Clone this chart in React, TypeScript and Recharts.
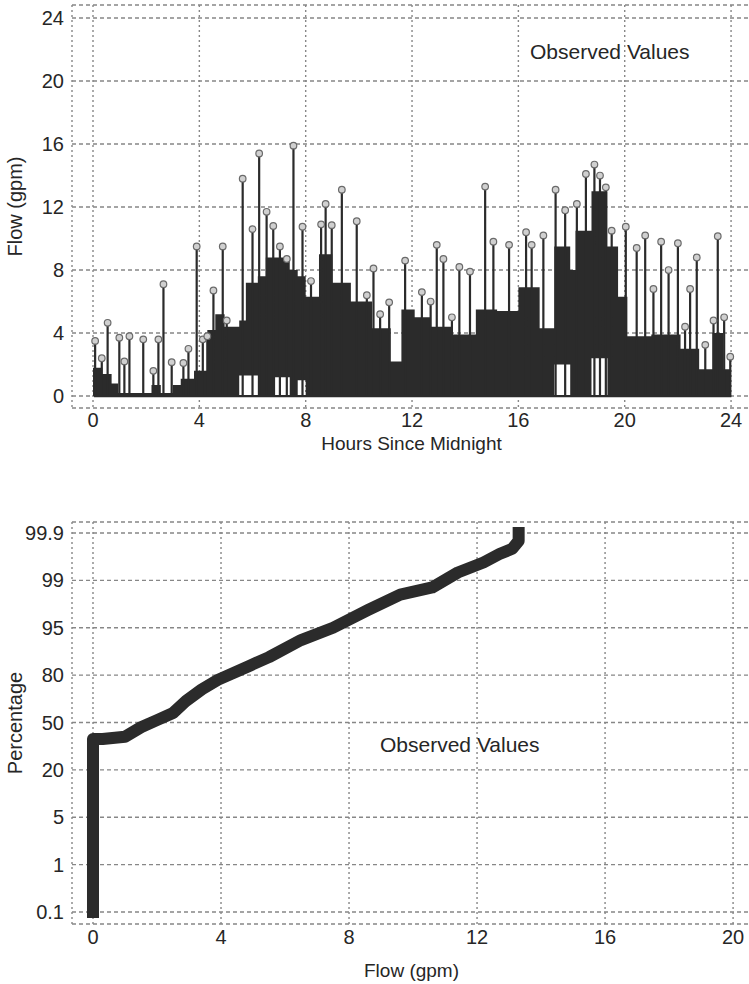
import React from 'react';
import { ComposedChart, Line, Area, Scatter, XAxis, YAxis, CartesianGrid } from 'recharts';

// ---------- top panel: flow vs time of day ----------
const hourTicks = [0, 4, 8, 12, 16, 20, 24];
const hourMinorTicks = [0, 1, 2, 3, 4, 5, 6, 7, 8, 9, 10, 11, 12, 13, 14, 15, 16, 17, 18, 19, 20, 21, 22, 23, 24];
const flowTicks = [0, 4, 8, 12, 16, 20, 24];
const flowMinorTicks = [0, 1, 2, 3, 4, 5, 6, 7, 8, 9, 10, 11, 12, 13, 14, 15, 16, 17, 18, 19, 20, 21, 22, 23, 24];

// individual flow events (hour, gpm)
const peakHours = [
  0.08, 0.33, 0.55, 0.99, 1.18, 1.37, 1.89, 2.27, 2.46, 2.65,
  2.96, 3.4, 3.59, 3.9, 4.13, 4.3, 4.53, 4.88, 5.03, 5.63,
  6.0, 6.25, 6.53, 6.78, 7.03, 7.29, 7.54, 7.88, 8.2, 8.58,
  8.75, 8.98, 9.36, 9.92, 10.3, 10.55, 10.8, 11.14, 11.74, 12.37,
  12.7, 12.93, 13.18, 13.5, 13.78, 14.18, 14.75, 15.06, 15.65, 16.29,
  16.5, 16.94, 17.4, 17.76, 18.2, 18.54, 18.86, 19.07, 19.29, 19.51,
  20.04, 20.45, 20.77, 21.08, 21.37, 21.65, 22.0, 22.27, 22.46, 22.71,
  23.03, 23.34, 23.5, 23.74, 23.97,
];
const peakFlows = [
  3.5, 2.4, 4.65, 3.7, 2.2, 3.8, 3.6, 1.6, 3.6, 7.1,
  2.15, 2.1, 3.0, 9.5, 3.6, 3.8, 6.7, 9.5, 4.8, 13.8,
  10.6, 15.4, 11.7, 10.8, 9.5, 8.7, 15.9, 10.75, 7.3, 10.9,
  12.2, 10.85, 13.1, 11.1, 6.4, 8.1, 5.2, 5.95, 8.6, 6.6,
  6.0, 9.6, 8.7, 5.0, 8.2, 7.9, 13.3, 9.8, 9.6, 10.4,
  9.6, 10.2, 13.1, 11.8, 12.2, 14.1, 14.7, 14.0, 13.25, 10.5,
  10.75, 9.4, 10.2, 6.8, 9.8, 8.0, 9.7, 4.4, 6.8, 8.8,
  3.25, 4.8, 10.15, 5.0, 2.5,
];

// busy stretches where the trace fills in solid (start hour, low, high)
const massHours = [
  0, 0.35, 0.7, 0.95, 2.2, 2.55, 3.0, 3.3, 3.8, 4.3,
  4.6, 4.95, 5.5, 5.75, 6.2, 6.5, 6.85, 7.4, 7.7, 8.0,
  8.5, 9.0, 9.7, 10.5, 11.2, 11.6, 12.1, 12.7, 13.5, 14.4,
  15.2, 16.0, 16.8, 17.35, 17.95, 18.15, 18.75, 19.35, 19.75, 20.1,
  21.0, 22.1, 22.8, 23.3, 23.7, 24.0,
];
const massLow = [
  0, 0, 0, 0, 0, 0, 0, 0, 0, 0,
  0, 0, 1.3, 1.3, 0, 0, 1.2, 0, 1.0, 0,
  0, 0, 0, 0, 0, 0, 0, 0, 0, 0,
  0, 0, 0, 2.0, 0, 0, 2.4, 0, 0, 0,
  0, 0, 0, 0, 0, 0,
];
const massHigh = [
  1.8, 1.4, 0.8, 0.2, 0.7, 0.2, 0.7, 1.1, 1.6, 4.2,
  5.2, 4.4, 4.8, 7.2, 7.6, 8.8, 8.8, 8.0, 7.6, 6.3,
  9.0, 7.2, 6.0, 4.3, 2.2, 5.5, 5.0, 4.4, 3.9, 5.5,
  5.4, 6.9, 4.3, 9.5, 8.0, 10.5, 13.0, 9.5, 6.3, 3.8,
  3.9, 3.0, 1.7, 4.0, 1.7, 1.7,
];

// ---------- bottom panel: probability plot ----------
const pctLabels = ['0.1', '1', '5', '20', '50', '80', '95', '99', '99.9'];
const qTicks = [0, 4, 8, 12, 16, 20];
const qMinorTicks = [0, 1, 2, 3, 4, 5, 6, 7, 8, 9, 10, 11, 12, 13, 14, 15, 16, 17, 18, 19, 20];

const probFlows = [0, 0, 0.3, 1.0, 1.5, 2.0, 2.5, 2.9, 3.4, 3.9, 4.9, 5.5, 6.5, 7.5, 8.6, 9.6, 10.6, 11.4, 12.2, 12.7, 13.1, 13.3, 13.3];
const probPcts = [0.1, 39.5, 39.5, 41, 47, 51.5, 56, 63.5, 71, 77, 83, 85.7, 91.1, 95, 96.5, 97.8, 98.4, 99.15, 99.34, 99.5, 99.6, 99.75, 99.9];

const ink = '#262626';
const trace = '#2b2b2b';
const edge = { stroke: '#777', strokeWidth: 2.2 };
const tickStroke = { stroke: '#6c6c6c', strokeWidth: 1.6 };
const gridColor = '#878787';

// the percentage axis is spaced evenly between its labels
const pctValues = pctLabels.map(Number);
const pctPositions = pctLabels.map((_, i) => i);
function toPos(p: number) {
  for (let i = 0; i < pctValues.length - 1; i++) {
    if (p <= pctValues[i + 1]) return i + (p - pctValues[i]) / (pctValues[i + 1] - pctValues[i]);
  }
  return pctValues.length - 1;
}

// inward tick marks + frame, done with mirrored zero-size axes
function innerTicks(id: string, side: 'top' | 'bottom' | 'left' | 'right', domain: number[], ticks: number[], size: number, withEdge: boolean) {
  const shared = {
    type: 'number' as const,
    domain,
    ticks,
    allowDataOverflow: true,
    mirror: true,
    tick: false,
    interval: 0 as const,
    tickSize: size,
    tickLine: tickStroke,
    axisLine: withEdge ? edge : false,
  };
  if (side === 'top' || side === 'bottom') {
    return <XAxis key={id} xAxisId={id} orientation={side} height={0} {...shared} />;
  }
  return <YAxis key={id} yAxisId={id} orientation={side} width={0} {...shared} />;
}

const peakMarker = (p: any) => (
  <circle cx={p.cx} cy={p.cy} r={3.3} fill="#d0d0d0" stroke="#6a6a6a" strokeWidth={1.2} />
);

function FlowSeries() {
  const stems = peakHours.flatMap((h, i) => [{ h, f: 0 }, { h, f: peakFlows[i] }, { h, f: 0 }]);
  const peaks = peakHours.map((h, i) => ({ h, f: peakFlows[i] }));
  const mass = massHours.map((h, i) => ({ h, band: [massLow[i], massHigh[i]] }));
  const xd = [-0.79, 24.75];
  const yd = [-0.76, 24.83];
  return (
    <ComposedChart width={751} height={460} margin={{ top: 5, right: 0, bottom: 0, left: 0 }}>
      <CartesianGrid vertical={false} stroke={gridColor} strokeDasharray="4 3" strokeWidth={1.4} />
      <CartesianGrid horizontal={false} stroke={gridColor} strokeDasharray="2 3" strokeWidth={1.4} />
      <XAxis
        dataKey="h"
        type="number"
        domain={xd}
        ticks={hourTicks}
        allowDataOverflow
        interval={0}
        axisLine={false}
        tickLine={false}
        tickSize={0}
        tickMargin={5}
        height={52}
        tick={{ fill: ink, fontSize: 20 }}
        label={{ value: 'Hours Since Midnight', position: 'insideBottom', offset: 10, fill: ink, fontSize: 19 }}
      />
      <YAxis
        type="number"
        domain={yd}
        ticks={flowTicks}
        allowDataOverflow
        interval={0}
        axisLine={false}
        tickLine={false}
        tickSize={0}
        tickMargin={8}
        width={72}
        tick={{ fill: ink, fontSize: 20 }}
        label={{ value: 'Flow (gpm)', angle: -90, position: 'insideLeft', offset: 15, fill: ink, fontSize: 20, style: { textAnchor: 'middle' } }}
      />
      {innerTicks('tb1', 'bottom', xd, hourMinorTicks, 4, true)}
      {innerTicks('tb2', 'bottom', xd, hourTicks, 10, false)}
      {innerTicks('tt1', 'top', xd, hourMinorTicks, 4, true)}
      {innerTicks('tt2', 'top', xd, hourTicks, 10, false)}
      {innerTicks('tl1', 'left', yd, flowMinorTicks, 8, true)}
      {innerTicks('tl2', 'left', yd, flowTicks, 14, false)}
      {innerTicks('tr1', 'right', yd, flowMinorTicks, 8, true)}
      {innerTicks('tr2', 'right', yd, flowTicks, 14, false)}
      <Area data={mass} dataKey="band" type="stepAfter" stroke="none" fill={trace} fillOpacity={1} isAnimationActive={false} />
      <Line data={stems} dataKey="f" type="linear" stroke={trace} strokeWidth={2.2} dot={false} activeDot={false} isAnimationActive={false} />
      <Scatter data={peaks} dataKey="f" shape={peakMarker} isAnimationActive={false} />
    </ComposedChart>
  );
}

function ProbabilityPlot() {
  const curve = probFlows.map((q, i) => ({ q, pos: toPos(probPcts[i]) }));
  const xd = [-0.656, 20.56];
  const yd = [-0.253, 8.232];
  return (
    <ComposedChart width={751} height={514} margin={{ top: 52, right: 0, bottom: 0, left: 0 }}>
      <CartesianGrid vertical={false} stroke={gridColor} strokeDasharray="4 3" strokeWidth={1.4} />
      <CartesianGrid horizontal={false} stroke={gridColor} strokeDasharray="2 3" strokeWidth={1.4} />
      <XAxis
        dataKey="q"
        type="number"
        domain={xd}
        ticks={qTicks}
        allowDataOverflow
        interval={0}
        axisLine={false}
        tickLine={false}
        tickSize={0}
        tickMargin={6}
        height={60}
        tick={{ fill: ink, fontSize: 20 }}
        label={{ value: 'Flow (gpm)', position: 'insideBottom', offset: 7, fill: ink, fontSize: 19 }}
      />
      <YAxis
        type="number"
        domain={yd}
        ticks={pctPositions}
        tickFormatter={(v: number) => pctLabels[v]}
        allowDataOverflow
        interval={0}
        axisLine={false}
        tickLine={false}
        tickSize={0}
        tickMargin={8}
        width={72}
        tick={{ fill: ink, fontSize: 20 }}
        label={{ value: 'Percentage', angle: -90, position: 'insideLeft', offset: 15, fill: ink, fontSize: 20, style: { textAnchor: 'middle' } }}
      />
      {innerTicks('pb1', 'bottom', xd, qMinorTicks, 5, true)}
      {innerTicks('pb2', 'bottom', xd, qTicks, 10, false)}
      {innerTicks('pt1', 'top', xd, qMinorTicks, 4, true)}
      {innerTicks('pt2', 'top', xd, qTicks, 11, false)}
      {innerTicks('pl1', 'left', yd, pctPositions, 14, true)}
      {innerTicks('pr1', 'right', yd, pctPositions, 14, true)}
      <Line
        data={curve}
        dataKey="pos"
        type="linear"
        stroke={trace}
        strokeWidth={12}
        strokeLinecap="square"
        strokeLinejoin="round"
        dot={false}
        activeDot={false}
        isAnimationActive={false}
      />
    </ComposedChart>
  );
}

const note: React.CSSProperties = { position: 'absolute', fontSize: 21, color: ink, whiteSpace: 'nowrap', lineHeight: '24px' };

export default function App() {
  return (
    <div
      style={{
        position: 'absolute',
        left: 0,
        top: 0,
        width: 749,
        height: 984,
        overflow: 'hidden',
        background: '#fff',
        fontFamily: '"Liberation Sans", Arial, sans-serif',
      }}
    >
      <div style={{ position: 'absolute', left: 0, top: 0 }}>
        <FlowSeries />
      </div>
      <div style={{ position: 'absolute', left: 0, top: 470 }}>
        <ProbabilityPlot />
      </div>
      <div style={{ ...note, left: 530, top: 40 }}>Observed Values</div>
      <div style={{ ...note, left: 380, top: 733 }}>Observed Values</div>
    </div>
  );
}
